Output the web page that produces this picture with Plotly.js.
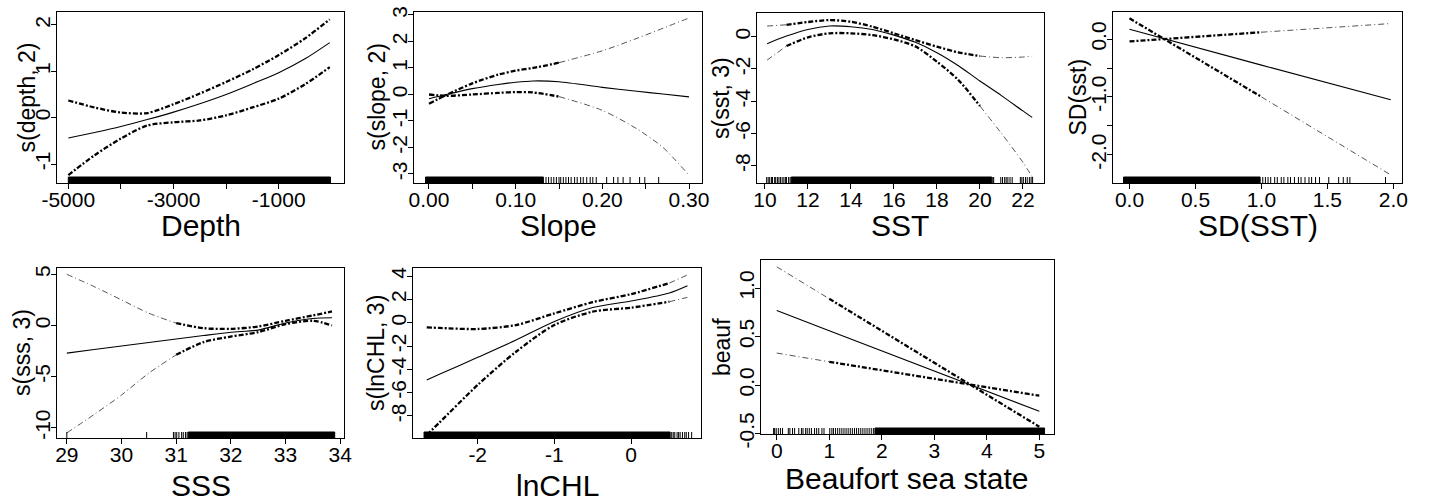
<!DOCTYPE html>
<html><head><meta charset="utf-8">
<script src="https://cdn.plot.ly/plotly-3.0.1.min.js"></script>
<style>html,body{margin:0;padding:0;background:#fff}#chart{width:1429px;height:501px}</style>
</head><body><div id="chart"></div><script>
// ---------------- DATA ----------------
// Depth
const depthX     = [-5000,-4500,-4000,-3500,-3000,-2500,-2000,-1500,-1000,-500,-30];
const depthFit   = [-0.44,-0.32,-0.19,-0.04,0.12,0.30,0.50,0.73,0.97,1.27,1.62];
const depthUpper = [0.37,0.22,0.11,0.10,0.29,0.52,0.77,1.04,1.35,1.71,2.12];
const depthLower = [-1.24,-0.81,-0.45,-0.17,-0.10,-0.06,0.05,0.22,0.41,0.72,1.09];
const depthRugRanges = [[-5000,-15]];
const depthRugTicks  = [];
const depthXTicks = [-5000,-4000,-3000,-2000,-1000];
const depthXLabels = ['-5000','','-3000','','-1000'];
const depthYTicks = [-1,0,1,2];
const depthYLabels = ['-1','0','1','2'];

// Slope
const slopeX     = [0,0.02,0.05,0.08,0.10,0.12,0.15,0.20,0.24,0.27,0.30];
const slopeFit   = [-0.16,0.0,0.22,0.38,0.46,0.51,0.48,0.27,0.12,0.02,-0.09];
const slopeUpper = [-0.35,-0.02,0.42,0.75,0.90,1.00,1.20,1.65,2.12,2.50,2.89];
const slopeLower = [0.0,-0.05,0.0,0.06,0.09,0.08,-0.08,-0.60,-1.30,-2.00,-3.05];
const slopeRugRanges = [[-0.004,0.132]];
const slopeRugTicks  = [0.135,0.138,0.141,0.144,0.147,0.150,0.152,0.155,0.158,0.161,0.164,0.168,0.171,0.175,0.178,0.182,0.186,0.189,0.193,0.205,0.213,0.218,0.224,0.232,0.243,0.249,0.265];
const slopeXTicks = [0,0.05,0.10,0.15,0.20,0.25,0.30];
const slopeXLabels = ['0.00','','0.10','','0.20','','0.30'];
const slopeYTicks = [-3,-2,-1,0,1,2,3];
const slopeYLabels = ['-3','-2','-1','0','1','2','3'];

// SST
const sstX     = [10.1,11,12,13,14,15,16,17,18,19,20,21,22,22.43];
const sstFit   = [-0.43,0.04,0.45,0.66,0.62,0.45,0.10,-0.35,-0.99,-1.80,-2.75,-3.65,-4.60,-5.0];
const sstUpper = [0.66,0.74,0.91,1.03,0.93,0.62,0.21,-0.21,-0.62,-0.97,-1.20,-1.30,-1.26,-1.20];
const sstLower = [-1.45,-0.58,-0.04,0.21,0.21,0.10,-0.17,-0.60,-1.55,-2.69,-4.30,-5.99,-7.79,-8.68];
const sstRugRanges = [[11.22,20.55]];
const sstRugTicks  = [10.08,10.15,10.22,10.3,10.35,10.45,10.5,10.58,10.65,10.72,10.8,10.88,10.95,11.0,11.1,11.17,20.6,20.64,20.97,21.05,21.15,21.22,21.3,21.4,21.5,21.88,21.95,22.02,22.12,22.2,22.3,22.38,22.45];
const sstXTicks = [10,12,14,16,18,20,22];
const sstXLabels = ['10','12','14','16','18','20','22'];
const sstYTicks = [-8,-6,-4,-2,0];
const sstYLabels = ['-8','-6','-4','-2','0'];

// SD(SST)
const sdX     = [0,1,1.98];
const sdFit   = [0.17,-0.45,-1.05];
const sdUpper = [-0.04,0.12,0.27];
const sdLower = [0.36,-1.00,-2.35];
const sdRugRanges = [[-0.045,0.99]];
const sdRugTicks  = [1.01,1.03,1.05,1.07,1.10,1.12,1.15,1.17,1.20,1.22,1.25,1.28,1.30,1.33,1.36,1.38,1.41,1.44,1.51,1.585,1.62,1.65,1.67,1.94];
const sdXTicks = [0,0.5,1.0,1.5,2.0];
const sdXLabels = ['0.0','0.5','1.0','1.5','2.0'];
const sdYTicks = [-2,-1.5,-1,-0.5,0];
const sdYLabels = ['-2.0','','-1.0','','0.0'];

// SSS
const sssX     = [29,29.5,30,30.5,31,31.5,32,32.5,33,33.5,33.85];
const sssFit   = [-2.7,-2.35,-2.0,-1.66,-1.32,-0.98,-0.66,-0.45,0.25,0.68,0.75];
const sssUpper = [5.0,3.8,2.5,1.2,0.23,-0.26,-0.33,-0.10,0.46,0.98,1.37];
const sssLower = [-10.5,-8.7,-6.8,-4.66,-2.87,-1.63,-1.08,-0.65,0.13,0.46,0.0];
const sssRugRanges = [[31.22,33.9]];
const sssRugTicks  = [29.0,30.46,30.95,30.98,31.01,31.05,31.1,31.13,31.17,31.2];
const sssXTicks = [29,30,31,32,33,34];
const sssXLabels = ['29','30','31','32','33','34'];
const sssYTicks = [-10,-5,0,5];
const sssYLabels = ['-10','-5','0','5'];

// lnCHL
const chlX     = [-2.665,-2.5,-2,-1.5,-1,-0.5,0,0.5,0.735];
const chlFit   = [-4.91,-4.43,-2.97,-1.49,0.1,1.3,1.86,2.55,3.17];
const chlUpper = [-0.4,-0.45,-0.54,-0.2,0.8,1.76,2.45,3.4,4.09];
const chlLower = [-9.63,-8.57,-5.34,-2.49,-0.2,0.94,1.29,1.8,2.17];
const chlRugRanges = [[-2.70,0.51]];
const chlRugTicks  = [0.53,0.55,0.57,0.6,0.62,0.64,0.67,0.7,0.72,0.75,0.79];
const chlXTicks = [-2,-1,0];
const chlXLabels = ['-2','-1','0'];
const chlYTicks = [-8,-6,-4,-2,0,2,4];
const chlYLabels = ['-8','-6','-4','-2','0','2','4'];

// Beaufort
const beaufX     = [0,1,5];
const beaufFit   = [0.77,0.56,-0.27];
const beaufUpper = [1.22,0.89,-0.43];
const beaufLower = [0.33,0.24,-0.11];
const beaufRugRanges = [[1.87,5.1]];
const beaufRugTicks  = [-0.06,-0.04,-0.01,0.03,0.07,0.11,0.22,0.25,0.3,0.34,0.42,0.47,0.5,0.55,0.58,0.62,0.66,0.72,0.76,0.8,0.86,0.9,1.01,1.05,1.08,1.12,1.16,1.2,1.24,1.28,1.32,1.36,1.4,1.44,1.48,1.52,1.56,1.6,1.64,1.68,1.72,1.76,1.8,1.84];
const beaufXTicks = [0,1,2,3,4,5];
const beaufXLabels = ['0','1','2','3','4','5'];
const beaufYTicks = [-0.5,0,0.5,1.0];
const beaufYLabels = ['-0.5','0.0','0.5','1.0'];

// ---------------- LAYOUT / STYLE ----------------
const W = 1429, H = 501;
const FONT = 'Liberation Sans, Arial, Helvetica, sans-serif';
const panels = [
  {x:depthX, fit:depthFit, up:depthUpper, lo:depthLower, rr:depthRugRanges, rt:depthRugTicks,
   xt:depthXTicks, xl:depthXLabels, yt:depthYTicks, yl:depthYLabels,
   box:[57,12,344,183], xr:[-5215,241], yr:[-1.41,2.28], xtitle:'Depth', ytitle:'s(depth, 2)',
   dense:[-1e9,1e9], yTitleX:26, xTitleY:225},
  {x:slopeX, fit:slopeFit, up:slopeUpper, lo:slopeLower, rr:slopeRugRanges, rt:slopeRugTicks,
   xt:slopeXTicks, xl:slopeXLabels, yt:slopeYTicks, yl:slopeYLabels,
   box:[414,12,702,183], xr:[-0.0173,0.315], yr:[-3.34,3.113], xtitle:'Slope', ytitle:'s(slope, 2)',
   dense:[-1,0.15], yTitleX:376, xTitleY:225},
  {x:sstX, fit:sstFit, up:sstUpper, lo:sstLower, rr:sstRugRanges, rt:sstRugTicks,
   xt:sstXTicks, xl:sstXLabels, yt:sstYTicks, yl:sstYLabels,
   box:[757,13,1044,183], xr:[9.63,22.98], yr:[-9.07,1.47], xtitle:'SST', ytitle:'s(sst, 3)',
   dense:[11,20], yTitleX:721, xTitleY:225},
  {x:sdX, fit:sdFit, up:sdUpper, lo:sdLower, rr:sdRugRanges, rt:sdRugTicks,
   xt:sdXTicks, xl:sdXLabels, yt:sdYTicks, yl:sdYLabels,
   box:[1113,12,1402,183], xr:[-0.125,2.065], yr:[-2.49,0.47], xtitle:'SD(SST)', ytitle:'SD(sst)',
   dense:[-1,1], yTitleX:1077, xTitleY:226},
  {x:sssX, fit:sssFit, up:sssUpper, lo:sssLower, rr:sssRugRanges, rt:sssRugTicks,
   xt:sssXTicks, xl:sssXLabels, yt:sssYTicks, yl:sssYLabels,
   box:[57,268,344,438], xr:[28.82,34.07], yr:[-11.0,5.62], xtitle:'SSS', ytitle:'s(sss, 3)',
   dense:[31,99], yTitleX:22, xTitleY:null},
  {x:chlX, fit:chlFit, up:chlUpper, lo:chlLower, rr:chlRugRanges, rt:chlRugTicks,
   xt:chlXTicks, xl:chlXLabels, yt:chlYTicks, yl:chlYLabels,
   box:[413,268,701,438], xr:[-2.844,0.912], yr:[-9.89,4.69], xtitle:'lnCHL', ytitle:'s(lnCHL, 3)',
   dense:[-9,0.5], yTitleX:376, xTitleY:null},
  {x:beaufX, fit:beaufFit, up:beaufUpper, lo:beaufLower, rr:beaufRugRanges, rt:beaufRugTicks,
   xt:beaufXTicks, xl:beaufXLabels, yt:beaufYTicks, yl:beaufYLabels,
   box:[761,260,1054,434], xr:[-0.30,5.28], yr:[-0.505,1.29], xtitle:'Beaufort sea state', ytitle:'beauf',
   dense:[1,9], yTitleX:722, xTitleY:478}
];

const RUG_PX = 6;
const traces = [];
const shapes = [];
const annotations = [];
const layout = {
  width: W, height: H, margin:{l:0,r:0,t:0,b:0},
  paper_bgcolor:'#fff', plot_bgcolor:'#fff', showlegend:false,
  font:{family:FONT, color:'#000'}
};

function splitBand(xs, ys, lo, hi){
  const inIdx = [];
  xs.forEach((v,i)=>{ if(v>=lo && v<=hi) inIdx.push(i); });
  const segs = [];
  const n = xs.length;
  if(inIdx.length===0){ segs.push({thick:false, a:0, b:n-1}); }
  else {
    const f = inIdx[0], l = inIdx[inIdx.length-1];
    if(f>0) segs.push({thick:false, a:0, b:f});
    if(l>f) segs.push({thick:true, a:f, b:l});
    if(l<n-1) segs.push({thick:false, a:l, b:n-1});
  }
  return segs.map(s=>({thick:s.thick, x:xs.slice(s.a,s.b+1), y:ys.slice(s.a,s.b+1)}));
}

panels.forEach((p,i)=>{
  const k = i===0 ? '' : String(i+1);
  const xa = 'x'+k, ya = 'y'+k;
  const [l,t,r,b] = p.box;
  const common = {
    showline:true, mirror:true, linecolor:'#000', linewidth:1.3,
    ticks:'outside', ticklen:5, tickwidth:1, tickcolor:'#000',
    showgrid:false, zeroline:false, tickmode:'array',
    tickfont:{family:FONT, size:21, color:'#000'}, fixedrange:true
  };
  layout['xaxis'+k] = Object.assign({}, common, {
    domain:[l/W, r/W], range:p.xr, anchor:ya, tickvals:p.xt, ticktext:p.xl, ticklabelstandoff:-8
  });
  layout['yaxis'+k] = Object.assign({}, common, {
    domain:[1-b/H, 1-t/H], range:p.yr, anchor:xa, tickvals:p.yt, ticktext:p.yl, tickangle:-90,
    ticklabelstandoff:-8
  });
  if(p.xTitleY === null){
    annotations.push({text:p.xtitle, xref:'paper', yref:'paper', x:((l+r)/2)/W, y:0, yshift:-3,
      xanchor:'center', yanchor:'bottom', showarrow:false, font:{family:FONT, size:30, color:'#000'}});
  } else {
    annotations.push({text:p.xtitle, xref:'paper', yref:'paper', x:((l+r)/2)/W, y:1-p.xTitleY/H,
      xanchor:'center', yanchor:'middle', showarrow:false, font:{family:FONT, size:30, color:'#000'}});
  }
  annotations.push({text:p.ytitle, xref:'paper', yref:'paper', x:p.yTitleX/W, y:1-((t+b)/2)/H,
    xanchor:'center', yanchor:'middle', textangle:-90, showarrow:false, font:{family:FONT, size:23, color:'#000'}});
  // fitted smooth
  traces.push({x:p.x, y:p.fit, xaxis:xa, yaxis:ya, mode:'lines', hoverinfo:'skip',
    line:{color:'#000', width:1.1, shape:'spline', smoothing:0.8}});
  // confidence bands
  [p.up, p.lo].forEach(band=>{
    splitBand(p.x, band, p.dense[0], p.dense[1]).forEach(s=>{
      traces.push({x:s.x, y:s.y, xaxis:xa, yaxis:ya, mode:'lines', hoverinfo:'skip',
        line: s.thick ? {color:'#000', width:2.3, dash:'5px,2px,2px,2px', shape:s.x.length>2?'spline':'linear', smoothing:0.8}
                      : {color:'#555', width:1, dash:'6px,3px,1px,3px', shape:s.x.length>2?'spline':'linear', smoothing:0.8}});
    });
  });
  // rug
  const ry = RUG_PX/(b-t);
  p.rr.forEach(rg=>{
    shapes.push({type:'rect', xref:xa, yref:ya+' domain', x0:rg[0], x1:rg[1], y0:0, y1:ry,
      fillcolor:'#000', line:{color:'#000', width:1}, layer:'above'});
  });
  p.rt.forEach(v=>{
    shapes.push({type:'line', xref:xa, yref:ya+' domain', x0:v, x1:v, y0:0, y1:ry,
      line:{color:'#000', width:1}, layer:'above'});
  });
});
layout.shapes = shapes;
layout.annotations = annotations;

Plotly.newPlot('chart', traces, layout, {staticPlot:true, displayModeBar:false});
</script></body></html>
